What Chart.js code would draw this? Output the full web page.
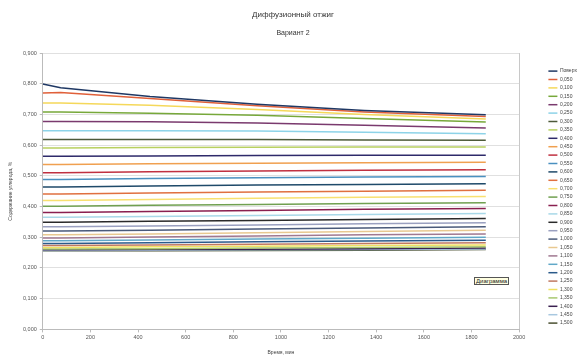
<!DOCTYPE html>
<html>
<head>
<meta charset="utf-8">
<script src="https://cdn.jsdelivr.net/npm/chart.js@4.4.1/dist/chart.umd.min.js"></script>
<style>
    body { margin: 0; background: #fff; }
    #wrap { position: relative; width: 582px; height: 360px; }
    #hint {
        position: absolute; left: 474px; top: 277px;
        padding: 0 1px; font: 6px "Liberation Sans", Arial, sans-serif;
        background: #ffffe1; border: 1px solid #555; color: #222;
    }
</style>
</head>
<body>
<div id="wrap">
    <canvas id="diffChart" width="582" height="360"></canvas>
    <div id="hint">Диаграмма</div>
</div>
<script>

// время, мин
const times = [0, 75, 450, 900, 1350, 1860];

// глубина слоя (подписи легенды)
const depths = ['Поверх', '0,050', '0,100', '0,150', '0,200', '0,250', '0,300', '0,350', '0,400', '0,450',
    '0,500', '0,550', '0,600', '0,650', '0,700', '0,750', '0,800', '0,850', '0,900', '0,950',
    '1,000', '1,050', '1,100', '1,150', '1,200', '1,250', '1,300', '1,350', '1,400', '1,450', '1,500'];

// содержание углерода, % (одна строка на глубину)
const carbon = [
    [0.799, 0.787, 0.758, 0.733, 0.713, 0.699],
    [0.770, 0.771, 0.752, 0.728, 0.708, 0.693],
    [0.737, 0.737, 0.730, 0.716, 0.700, 0.685],
    [0.708, 0.708, 0.704, 0.697, 0.687, 0.675],
    [0.677, 0.677, 0.676, 0.672, 0.665, 0.656],
    [0.647, 0.647, 0.647, 0.646, 0.642, 0.637],
    [0.618, 0.618, 0.618, 0.618, 0.617, 0.616],
    [0.591, 0.591, 0.592, 0.593, 0.594, 0.594],
    [0.564, 0.564, 0.565, 0.566, 0.567, 0.567],
    [0.537, 0.537, 0.539, 0.541, 0.543, 0.544],
    [0.510, 0.510, 0.513, 0.516, 0.518, 0.520],
    [0.488, 0.488, 0.491, 0.494, 0.496, 0.498],
    [0.464, 0.464, 0.467, 0.470, 0.472, 0.474],
    [0.441, 0.441, 0.444, 0.447, 0.450, 0.453],
    [0.420, 0.420, 0.423, 0.427, 0.430, 0.433],
    [0.401, 0.401, 0.404, 0.407, 0.410, 0.412],
    [0.381, 0.381, 0.384, 0.387, 0.391, 0.394],
    [0.365, 0.365, 0.368, 0.371, 0.374, 0.377],
    [0.349, 0.349, 0.352, 0.355, 0.358, 0.361],
    [0.334, 0.334, 0.337, 0.340, 0.344, 0.347],
    [0.320, 0.320, 0.323, 0.327, 0.330, 0.334],
    [0.308, 0.308, 0.311, 0.315, 0.319, 0.323],
    [0.298, 0.298, 0.301, 0.304, 0.308, 0.311],
    [0.289, 0.289, 0.291, 0.294, 0.297, 0.300],
    [0.280, 0.280, 0.282, 0.285, 0.288, 0.290],
    [0.273, 0.273, 0.275, 0.277, 0.280, 0.282],
    [0.267, 0.267, 0.269, 0.271, 0.273, 0.275],
    [0.262, 0.262, 0.263, 0.265, 0.267, 0.269],
    [0.259, 0.259, 0.260, 0.261, 0.263, 0.265],
    [0.257, 0.257, 0.258, 0.259, 0.260, 0.262],
    [0.256, 0.256, 0.256, 0.257, 0.258, 0.260]
];

const colors = ['#1f3864', '#e0603a', '#f5d85a', '#77a83a', '#7a3a6e', '#8dd3e8', '#4d5a3a', '#b8d060',
    '#2e2a6a', '#f0a050', '#c03040', '#4a90c0', '#1f4a6a', '#e07040', '#f8e070', '#70a050',
    '#8a2050', '#a8d8e8', '#2a2a2a', '#9aa0c0', '#4a5a7a', '#e8c890', '#a07890', '#60a8c8',
    '#2a5a8a', '#c07860', '#f0e060', '#a8c870', '#3a2050', '#a8c8e0', '#4a5030'];

const fontFamily = '"Liberation Sans", Arial, sans-serif';

const datasets = depths.map((label, i) => ({
    label: label,
    data: times.map((t, j) => ({ x: t, y: carbon[i][j] })),
    borderColor: colors[i],
    backgroundColor: colors[i],
    borderWidth: 1.5,
    pointRadius: 0,
    tension: 0
}));

// легенду сдвигаем вправо, к краю картинки
const legendShift = {
    id: 'legendShift',
    afterLayout(chart) {
        const lg = chart.legend;
        const w = lg.right - lg.left;
        lg.left = 545;
        lg.right = 545 + w;
    }
};

const ctx = document.getElementById('diffChart').getContext('2d');
const chart = new Chart(ctx, {
    type: 'line',
    data: { datasets: datasets },
    plugins: [legendShift],
    options: {
        responsive: false,
        animation: false,
        layout: { padding: { left: 4, right: 0, top: 0, bottom: 0 } },
        plugins: {
            title: {
                display: true,
                text: 'Диффузионный отжиг',
                color: '#333',
                font: { family: fontFamily, size: 8, weight: 'normal' },
                padding: { top: 10, bottom: 9 }
            },
            subtitle: {
                display: true,
                text: 'Вариант 2',
                color: '#333',
                font: { family: fontFamily, size: 7, weight: 'normal' },
                padding: { top: 0, bottom: 16 }
            },
            legend: {
                position: 'right',
                title: { display: true, text: ' ', font: { size: 1 }, padding: { top: 33, bottom: 0 } },
                labels: {
                    usePointStyle: true,
                    pointStyle: 'line',
                    pointStyleWidth: 9,
                    color: '#444',
                    font: { family: fontFamily, size: 5 },
                    padding: 3.4
                }
            },
            tooltip: { enabled: false }
        },
        scales: {
            x: {
                type: 'linear',
                min: 0,
                max: 2000,
                afterFit: (s) => { s.paddingRight = (s.chart.legend ? s.chart.legend.width : 0) + 21; },
                ticks: { stepSize: 200, color: '#555', font: { family: fontFamily, size: 5.5 }, padding: 2,
                    callback: (v) => String(v) },
                grid: {
                    color: (c) => c.tick && c.tick.value === 2000 ? '#c8c8c8' : 'rgba(0,0,0,0)',
                    tickColor: '#bbb',
                    tickLength: 3
                },
                border: { color: '#bbb' },
                title: { display: true, text: 'Время, мин', color: '#444', font: { family: fontFamily, size: 5 }, padding: { top: 7 } }
            },
            y: {
                min: 0,
                max: 0.9,
                ticks: {
                    stepSize: 0.1,
                    color: '#555',
                    font: { family: fontFamily, size: 5.5 },
                    padding: 3,
                    callback: (v) => v.toFixed(3).replace('.', ',')
                },
                grid: { color: '#e0e0e0', tickColor: '#bbb', tickLength: 3 },
                border: { color: '#bbb' },
                title: { display: true, text: 'Содержание углерода, %', color: '#444', font: { family: fontFamily, size: 5 }, padding: { bottom: 6 } }
            }
        }
    }
});
</script>
</body>
</html>
